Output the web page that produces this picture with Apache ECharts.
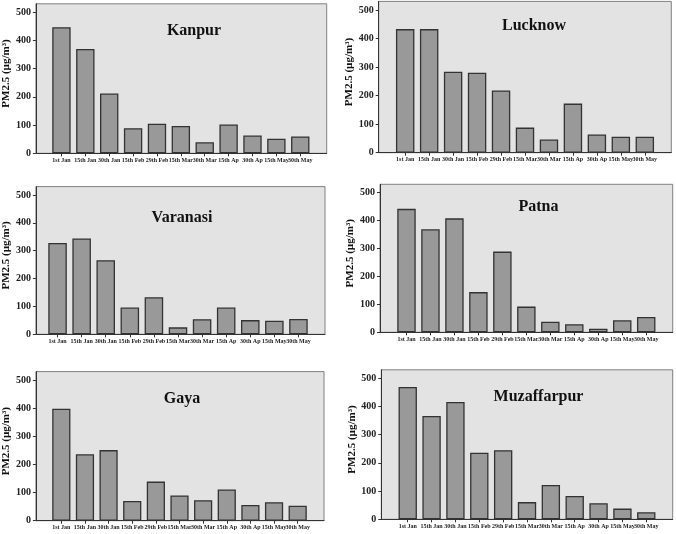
<!DOCTYPE html>
<html>
<head>
<meta charset="utf-8">
<script src="https://cdn.jsdelivr.net/npm/echarts@6/dist/echarts.min.js"></script>
<style>
html,body{margin:0;padding:0;background:#fff;}
#chart{width:676px;height:534px;}
</style>
</head>
<body>
<div id="chart"></div>
<script>
// ---- data ----
const categories = ['1st Jan','15th Jan','30th Jan','15th Feb','29th Feb','15th Mar','30th Mar','15th Ap','30th Ap','15th May','30th May'];
const cities = ['Kanpur','Lucknow','Varanasi','Patna','Gaya','Muzaffarpur'];
const kanpur = [447,370,212,89,105,97,39,102,63,52,60];
const lucknow = [433,433,284,280,218,88,46,172,64,56,56];
const varanasi = [328,344,266,96,133,25,54,96,51,49,55];
const patna = [442,369,408,144,289,92,38,29,13,43,55];
const gaya = [398,236,251,70,139,90,73,111,56,66,53];
const muzaffarpur = [469,366,416,236,245,61,122,83,57,38,25];
const yAxisTitle = 'PM2.5 (µg/m³)';
const yMax = 530, yInterval = 100;

const seriesData = [kanpur, lucknow, varanasi, patna, gaya, muzaffarpur];

// ---- layout (frame boxes) ----
const panels = [
  {L:35,  R:326.7, T:3.8,   H:149.5, tx:194,   ty:23,  gap:22},
  {L:378.7,R:671.3,T:1.4,   H:151.3, tx:534,   ty:18,  gap:20},
  {L:31,  R:325,   T:186.6, H:147.7, tx:182,   ty:210, gap:19},
  {L:380, R:672.7, T:184.3, H:148,   tx:538.5, ty:199, gap:22},
  {L:35,  R:324,   T:371.6, H:149.1, tx:182,   ty:391, gap:20.5},
  {L:381.3,R:672.7,T:369.8, H:149.5, tx:538.5, ty:389, gap:20.5}
];
const inset = 14.5;
const serif = 'Liberation Serif';

const grid = [], xAxis = [], yAxis = [], series = [], title = [];
panels.forEach((p, i) => {
  const W = p.R - p.L;
  grid.push({left:p.L, top:p.T, width:W, height:p.H, show:true,
    backgroundColor:'#e3e3e3', borderColor:'#808080', borderWidth:1});
  grid.push({left:p.L+inset, top:p.T, width:W-2*inset, height:p.H});
  const fg = 2*i, dg = 2*i+1;
  xAxis.push({type:'category', gridIndex:fg, data:[''],
    axisLine:{show:true, lineStyle:{color:'#333', width:1}},
    axisTick:{show:false}, axisLabel:{show:false}, splitLine:{show:false}});
  xAxis.push({type:'category', gridIndex:dg, data:categories,
    axisLine:{show:false},
    axisTick:{show:true, alignWithLabel:true, length:3, lineStyle:{color:'#333'}},
    axisLabel:{interval:0, fontFamily:serif, fontWeight:'bold', fontSize:6, color:'#222', margin:4},
    splitLine:{show:false}});
  yAxis.push({type:'value', gridIndex:fg, min:0, max:yMax, interval:yInterval,
    name:yAxisTitle, nameLocation:'middle', nameGap:p.gap,
    nameTextStyle:{fontFamily:serif, fontWeight:'bold', fontSize:11, color:'#111', padding:[0,0,0,10]},
    axisLine:{show:true, lineStyle:{color:'#333', width:1}},
    axisTick:{show:true, length:3, lineStyle:{color:'#333'}},
    axisLabel:{showMaxLabel:false, fontFamily:serif, fontWeight:'bold', fontSize:10, color:'#222', margin:5},
    splitLine:{show:false}});
  yAxis.push({type:'value', gridIndex:dg, min:0, max:yMax, interval:yInterval, show:false,
    splitLine:{show:false}});
  series.push({type:'bar', xAxisIndex:dg, yAxisIndex:dg, data:seriesData[i],
    barCategoryGap:'23%',
    itemStyle:{color:'#999999', borderColor:'#333333', borderWidth:1.3},
    silent:true, animation:false});
  title.push({text:cities[i], left:p.tx, top:p.ty, textAlign:'center', padding:0,
    textStyle:{fontFamily:serif, fontWeight:'bold', fontSize:16, color:'#111'}});
});

const chart = echarts.init(document.getElementById('chart'), null, {renderer:'canvas'});
chart.setOption({animation:false, backgroundColor:'#fff', title, grid, xAxis, yAxis, series});
</script>
</body>
</html>
